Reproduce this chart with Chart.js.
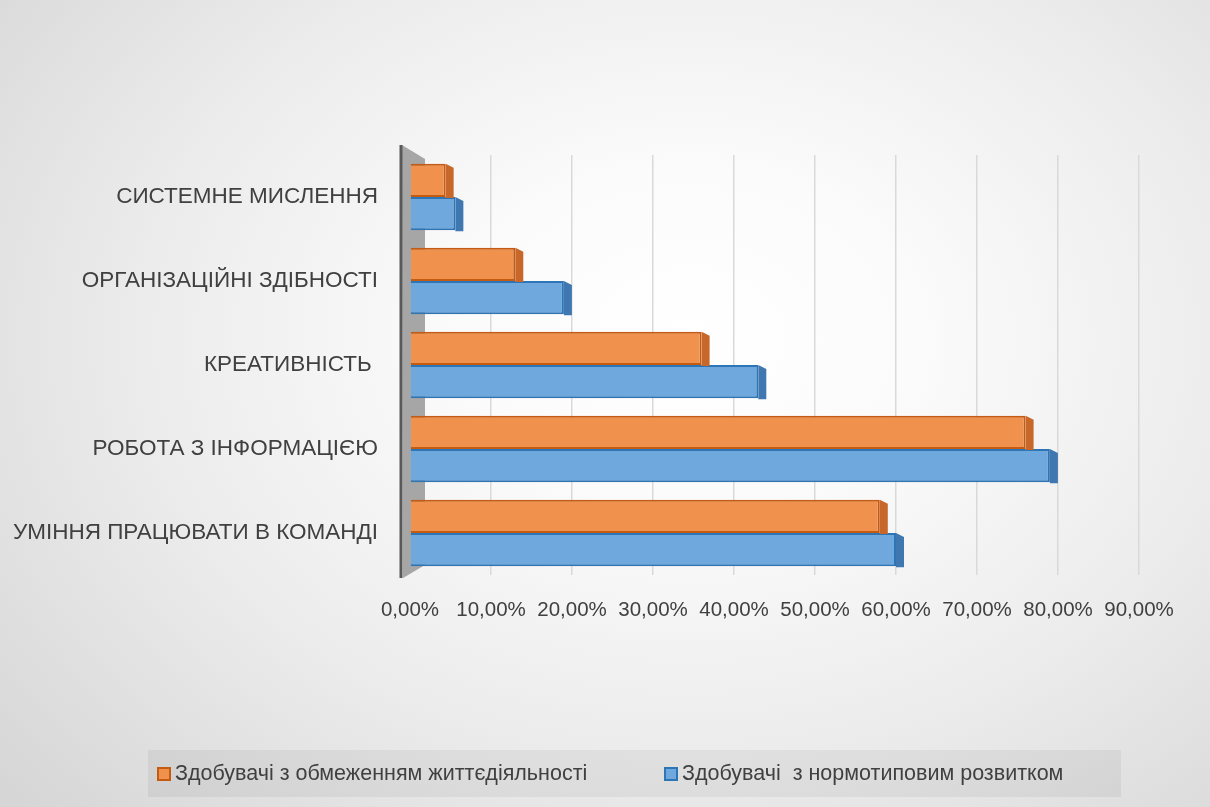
<!DOCTYPE html>
<html>
<head>
<meta charset="utf-8">
<script src="https://cdn.jsdelivr.net/npm/chart.js@4/dist/chart.umd.min.js"></script>
<style>
  html, body { margin: 0; padding: 0; }
  body {
    width: 1210px; height: 807px; overflow: hidden; position: relative;
    background: radial-gradient(ellipse 75% 85% at 57% 42%, #ffffff 0%, #fbfbfb 25%, #ececec 60%, #d6d6d6 100%);
    font-family: "Liberation Sans", Arial, sans-serif;
  }
  #wrap { position: absolute; left: 0; top: 0; width: 1210px; height: 807px; }
  #legend {
    position: absolute; left: 148px; top: 750px; width: 973px; height: 47px;
    background: rgba(0, 0, 0, 0.05);
    color: #404040; font-size: 21.5px;
  }
  .item { position: absolute; top: 12px; white-space: nowrap; line-height: 23px; }
  .box { display: inline-block; width: 14px; height: 14px; vertical-align: -1px; margin-right: 4px; box-sizing: border-box; border: 2px solid; }
</style>
</head>
<body>
<div id="wrap"><canvas id="bar-chart" width="1210" height="807"></canvas></div>
<div id="legend">
  <span class="item" style="left:9px"><span class="box" style="background:#f0914e;border-color:#c55a11"></span>Здобувачі з обмеженням життєдіяльності</span>
  <span class="item" style="left:516px"><span class="box" style="background:#6fa8dc;border-color:#2e75b6"></span>Здобувачі&nbsp; з нормотиповим розвитком</span>
</div>
<script>
const categories = [
  "СИСТЕМНЕ МИСЛЕННЯ",
  "ОРГАНІЗАЦІЙНІ ЗДІБНОСТІ",
  "КРЕАТИВНІСТЬ ",
  "РОБОТА З ІНФОРМАЦІЄЮ",
  "УМІННЯ ПРАЦЮВАТИ В КОМАНДІ",
];
const seriesNames = [
  "Здобувачі з обмеженням життєдіяльності",
  "Здобувачі  з нормотиповим розвитком",
];
const limited = [4.4, 13, 36, 76, 58];
const normal = [5.6, 19, 43, 79, 60];

// 3D look: side faces on bars and the grey left wall
const depthPlugin = {
  id: "depth",
  beforeDatasetsDraw(chart) {
    const { ctx, chartArea } = chart;
    ctx.save();
    ctx.fillStyle = "#a6a6a6";
    ctx.beginPath();
    ctx.moveTo(chartArea.left - 8, chartArea.top - 10);
    ctx.lineTo(chartArea.left + 15, chartArea.top + 4);
    ctx.lineTo(chartArea.left + 15, chartArea.bottom - 10);
    ctx.lineTo(chartArea.left - 7, chartArea.bottom + 3);
    ctx.closePath();
    ctx.fill();
    ctx.strokeStyle = "#595959";
    ctx.lineWidth = 3;
    ctx.beginPath();
    ctx.moveTo(chartArea.left - 9, chartArea.top - 10);
    ctx.lineTo(chartArea.left - 9, chartArea.bottom + 3);
    ctx.stroke();
    ctx.restore();
  },
  afterDatasetsDraw(chart) {
    const { ctx } = chart;
    const sides = ["#c7672a", "#3f77b0"];
    chart.data.datasets.forEach((ds, i) => {
      chart.getDatasetMeta(i).data.forEach(bar => {
        const top = bar.y - bar.height / 2;
        const bottom = bar.y + bar.height / 2;
        ctx.save();
        ctx.fillStyle = sides[i];
        ctx.beginPath();
        ctx.moveTo(bar.x, top);
        ctx.lineTo(bar.x + 8, top + 4);
        ctx.lineTo(bar.x + 8, bottom + 1);
        ctx.lineTo(bar.x, bottom + 1);
        ctx.closePath();
        ctx.fill();
        ctx.restore();
      });
    });
  }
};

let ctx = document.getElementById("bar-chart").getContext("2d");
window.myBar = new Chart(ctx, {
  type: "bar",
  plugins: [depthPlugin],
  data: {
    labels: categories,
    datasets: [
      {
        label: seriesNames[0],
        data: limited,
        backgroundColor: "#f0914e",
        borderColor: "#c55a11",
        borderWidth: 2,
      },
      {
        label: seriesNames[1],
        data: normal,
        backgroundColor: "#6fa8dc",
        borderColor: "#2e75b6",
        borderWidth: 2,
      },
    ],
  },
  options: {
    indexAxis: "y",
    responsive: false,
    animation: false,
    layout: { padding: { left: 0, right: 71, top: 155, bottom: 172 } },
    datasets: { bar: { categoryPercentage: 0.79, barPercentage: 1 } },
    plugins: { legend: { display: false }, tooltip: { enabled: false } },
    scales: {
      x: {
        min: 0,
        max: 90,
        afterFit: s => { s.height = 60; },
        ticks: {
          stepSize: 10,
          padding: 23,
          color: "#404040",
          font: { family: "Liberation Sans", size: 20.5 },
          callback: v => v.toFixed(2).replace(".", ",") + "%",
        },
        grid: {
          drawTicks: false,
          lineWidth: 1.5,
          color: c => (c.tick && c.tick.value === 0 ? "rgba(0,0,0,0)" : "#d9d9d9"),
        },
        border: { display: false },
      },
      y: {
        afterFit: s => { s.width = 410; },
        ticks: {
          padding: 32,
          color: "#404040",
          font: { family: "Liberation Sans", size: 22.5 },
        },
        grid: { display: false, drawTicks: false },
        border: { display: false },
      },
    },
  },
});
</script>
</body>
</html>
